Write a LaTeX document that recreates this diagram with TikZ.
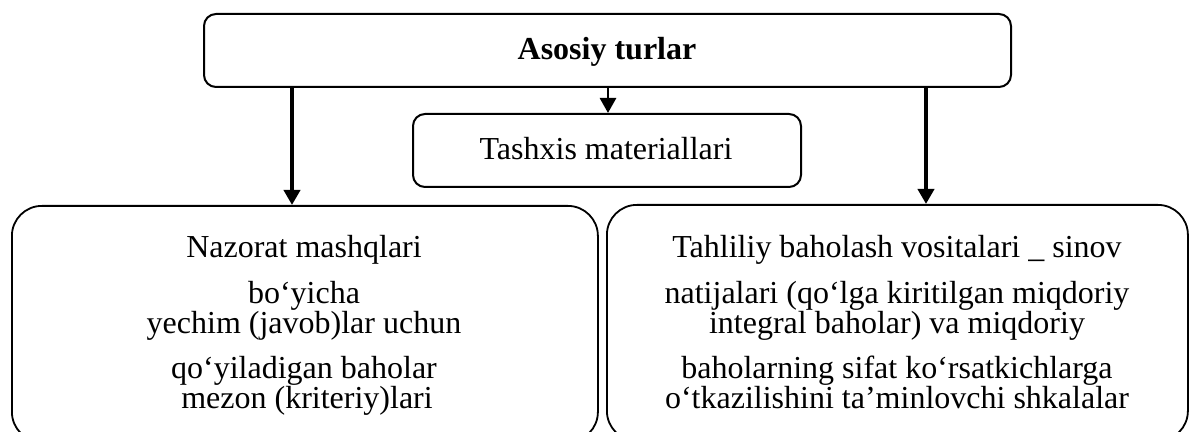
\documentclass[tikz,border=0pt]{standalone}
\usepackage{fontspec}
\setmainfont{Liberation Serif}
\usetikzlibrary{arrows.meta}
\begin{document}
\begin{tikzpicture}[x=0.5pt,y=-0.5pt,
  box/.style={draw, line width=1pt, rounded corners=6pt, inner sep=0pt},
  bigbox/.style={draw, line width=0.9pt, rounded corners=15pt, inner sep=0pt},
  txt/.style={font=\fontsize{16}{19}\selectfont, anchor=base, inner sep=0pt},
  btxt/.style={font=\bfseries\fontsize{16}{19}\selectfont, anchor=base, inner sep=0pt},
  arr/.style={line width=2pt, -{Triangle[length=7.5pt,width=8pt]}},
  marr/.style={line width=1.4pt, -{Triangle[length=7.5pt,width=8pt]}}
]
\useasboundingbox (0,0) rectangle (1189,432);
\clip (0,0) rectangle (1189,432);

\node[box, minimum width=403.5pt, minimum height=36.5pt, anchor=north west] (top) at (203,13) {};
\node[btxt] (ttop) at (607,60) {Asosiy turlar};

\node[box, minimum width=194pt, minimum height=36.5pt, anchor=north west] (mid) at (412,113) {};
\node[txt] (tmid) at (606,160) {Tashxis materiallari};

\node[bigbox, minimum width=293pt, minimum height=118pt, anchor=north west] (left) at (11,205) {};
\node[bigbox, minimum width=290.5pt, minimum height=118pt, anchor=north west] (right) at (606,204) {};

\coordinate (la) at (292,0);
\coordinate (ma) at (608,0);
\coordinate (ra) at (926,0);
\draw[arr] (top.south -| la) -- (left.north -| la);
\draw[marr] (top.south -| ma) -- (mid.north -| ma);
\draw[arr] (top.south -| ra) -- (right.north -| ra);

\node[txt] (l1) at (304,258) {Nazorat mashqlari};
\node[txt] (l2) at (304,304) {bo‘yicha};
\node[txt] (l3) at (304,334) {yechim (javob)lar uchun};
\node[txt] (l4) at (304,379) {qo‘yiladigan baholar};
\node[txt] (l5) at (307,409) {mezon (kriteriy)lari};

\node[txt] (r1) at (897,258) {Tahliliy baholash vositalari \_ sinov};
\node[txt] (r2) at (897,304) {natijalari (qo‘lga kiritilgan miqdoriy};
\node[txt] (r3) at (897,334) {integral baholar) va miqdoriy};
\node[txt] (r4) at (897,379) {baholarning sifat ko‘rsatkichlarga};
\node[txt] (r5) at (897,409) {o‘tkazilishini ta’minlovchi shkalalar};
\end{tikzpicture}
\end{document}
